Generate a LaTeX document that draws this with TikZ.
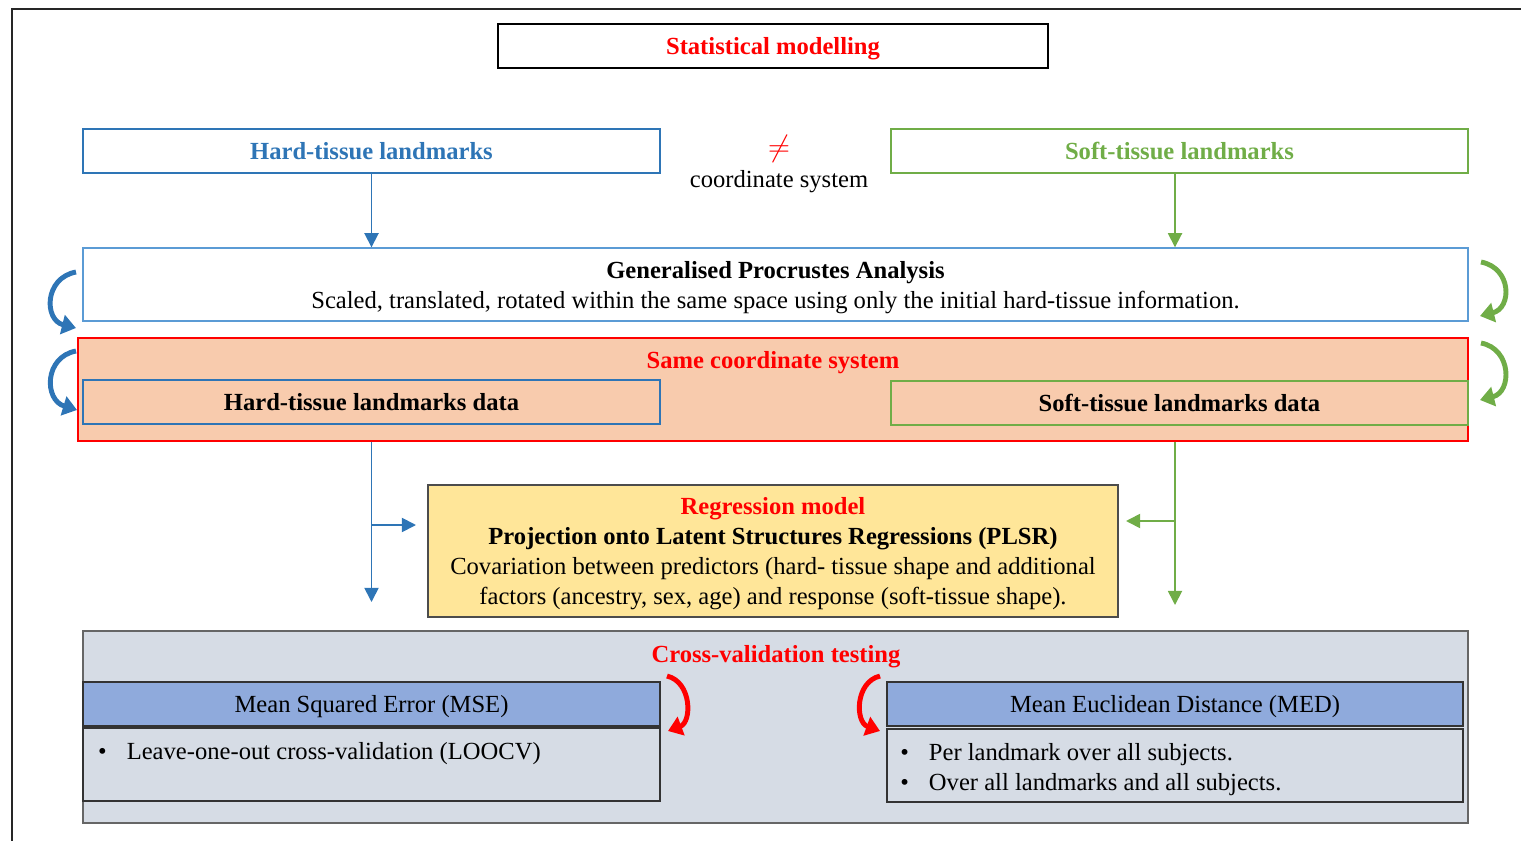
\documentclass[tikz,border=0pt]{standalone}
\usepackage{fontspec}
\setmainfont{Liberation Serif}
\usetikzlibrary{arrows.meta}
\definecolor{hardblue}{HTML}{2E75B6}
\definecolor{lightblue}{HTML}{5B9BD5}
\definecolor{softgreen}{HTML}{70AD47}
\definecolor{peach}{HTML}{F8CBAD}
\definecolor{yellowbox}{HTML}{FFE699}
\definecolor{greyblue}{HTML}{D6DCE5}
\definecolor{headblue}{HTML}{8FAADC}
\tikzset{
  txt/.style={font=\fontsize{14}{17}\selectfont},
  box/.style={draw, inner sep=0pt, txt, text height=13.2pt, text depth=3.5pt, minimum width=11.54cm, minimum height=0.88cm},
  widebox/.style={draw, inner sep=0pt, txt, minimum width=27.7cm},
  arr/.style={-{Triangle[length=8pt,width=8pt]}, line width=1pt},
  curvy/.style={-{Triangle[length=8pt,width=11pt]}, line width=2.8pt}
}

\begin{document}
\begin{tikzpicture}[x=0.02cm,y=-0.02cm]
\useasboundingbox (0,0) rectangle (1521,841);
\draw[line width=1.4pt, black!85] (12,841) -- (12,9) -- (1521,9);

\node[box, minimum width=11cm, line width=0.8pt] (stat) at (773,46) {\textcolor{red}{\textbf{Statistical modelling}}};
\node[box, hardblue, line width=0.8pt] (hard) at (371.5,151) {\textbf{Hard-tissue landmarks}};
\node[box, softgreen, line width=0.8pt] (soft) at (1179.5,151) {\textbf{Soft-tissue landmarks}};
\node[text=red, font=\fontsize{19}{20}\selectfont] (neq) at (779,149) {$\neq$};
\node[txt] (coord) at (779,182) {coordinate system};

\node[widebox, lightblue, text=black, minimum height=1.46cm, align=center, line width=0.8pt] (gpa) at (775.5,284.5)
  {\rule{0pt}{13pt}\textbf{Generalised Procrustes Analysis}\\Scaled, translated, rotated within the same space using only the initial hard-tissue information.};

\node[widebox, red, fill=peach, minimum width=27.8cm, minimum height=2.06cm, line width=0.8pt] (same) at (773,389.5) {};
\node[txt, text=red] (sametitle) at (773,363) {\textbf{Same coordinate system}};
\node[box, hardblue, fill=peach, text=black, line width=1.2pt] (hdata) at (371.5,402) {\textbf{Hard-tissue landmarks data}};
\node[box, softgreen, fill=peach, text=black, line width=0.8pt] (sdata) at (1179.5,403) {\textbf{Soft-tissue landmarks data}};

\node[draw=black!70, fill=yellowbox, txt, inner sep=0pt, minimum width=13.8cm, minimum height=2.64cm, align=center, line width=1pt] (reg) at (773,551)
  {\rule{0pt}{13pt}\textcolor{red}{\textbf{Regression model}}\\\textbf{Projection onto Latent Structures Regressions (PLSR)}\\
  Covariation between predictors (hard- tissue shape and additional\\factors (ancestry, sex, age) and response (soft-tissue shape).};

\coordinate (hdown) at (371.5,602);
\coordinate (hsplit) at (371.5,525);
\coordinate (hin) at (416,525);
\coordinate (sdown) at (1175,605);
\coordinate (ssplit) at (1175,521);
\coordinate (sin) at (1126,521);

\draw[arr, hardblue] (hard.south) -- (hard.south |- gpa.north);
\draw[arr, softgreen] (sdown |- soft.south) -- (sdown |- gpa.north);
\draw[arr, hardblue] (hdown |- same.south) -- (hdown);
\draw[arr, hardblue] (hsplit) -- (hin);
\draw[arr, softgreen] (sdown |- same.south) -- (sdown);
\draw[arr, softgreen] (ssplit) -- (sin);

\node[widebox, draw=black!60, fill=greyblue, minimum height=3.84cm, line width=1pt] (cv) at (775.5,727) {};
\node[txt, text=red] (cvtitle) at (776,657) {\textbf{Cross-validation testing}};
\node[box, draw=black!80, fill=headblue, line width=1.2pt] (mse) at (371.5,704) {Mean Squared Error (MSE)};
\node[box, draw=black!80, minimum height=1.46cm, line width=1.2pt] (msebody) at (371.5,764.5) {};
\node[txt, anchor=west] (loocv) at (92,754) {\textbullet\hspace{4mm}Leave-one-out cross-validation (LOOCV)};
\node[box, draw=black!80, fill=headblue, minimum width=11.52cm, line width=1.2pt] (med) at (1175,704) {Mean Euclidean Distance (MED)};
\node[box, draw=black!80, minimum width=11.52cm, minimum height=1.46cm, line width=1.2pt] (medbody) at (1175,765.5) {};
\node[txt, anchor=north west, align=left, inner sep=0pt] (medlist) at (900,743)
  {\textbullet\hspace{4mm}Per landmark over all subjects.\\\textbullet\hspace{4mm}Over all landmarks and all subjects.};

\draw[curvy, hardblue] (76,272) .. controls (44,278) and (44,320) .. (76,328);
\draw[curvy, hardblue] (76,351) .. controls (44,357) and (44,400) .. (77,410);
\draw[curvy, softgreen] (1481,262) .. controls (1512,268) and (1512,308) .. (1480,316);
\draw[curvy, softgreen] (1481,343) .. controls (1512,349) and (1512,392) .. (1480,400);
\draw[curvy, red] (667,676) .. controls (692,682) and (692,722) .. (668,731);
\draw[curvy, red] (880,676) .. controls (855,682) and (855,722) .. (880,731);
\end{tikzpicture}
\end{document}
